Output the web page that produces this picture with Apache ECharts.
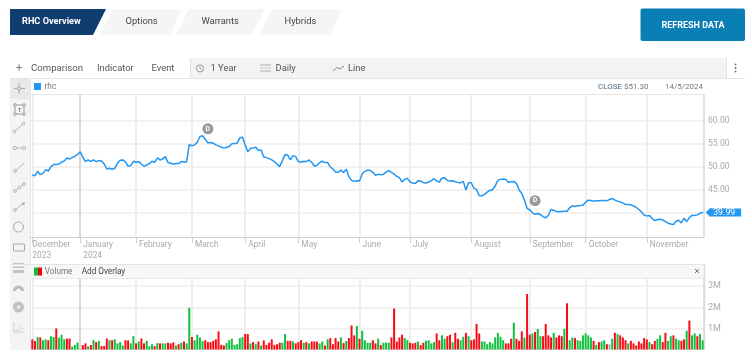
<!DOCTYPE html>
<html>
<head>
<meta charset="utf-8">
<style>html,body{margin:0;padding:0;background:#fff}#c{width:752px;height:358px}</style>
<script src="https://cdn.jsdelivr.net/npm/echarts@6/dist/echarts.min.js"></script>
</head>
<body>
<div id="c"></div>
<script>
const closePrices = [
48.21,48.06,49.01,48.28,48.57,49.38,49.08,50.04,50.48,50.48,50.62,50.99,51.28,51.94,51.72,52.01,52.31,52.67,53.26,52.09,
51.14,51.50,51.14,51.50,51.14,51.36,51.28,50.62,49.52,49.67,49.45,49.67,50.77,51.43,51.50,51.06,50.11,50.26,51.21,50.99,
51.14,50.62,50.11,50.40,50.70,51.21,50.99,51.94,51.50,51.72,52.23,50.92,50.77,50.62,50.70,50.70,51.14,51.06,51.06,54.87,
54.58,54.80,55.38,56.63,56.78,56.04,55.24,55.31,55.16,54.80,54.58,54.29,54.14,54.21,54.43,55.02,55.09,55.16,56.34,56.48,
54.80,53.26,53.99,54.14,54.29,53.55,
53.70,52.16,52.01,51.79,51.50,51.14,50.55,50.04,51.36,52.67,52.53,51.50,52.45,52.23,51.14,50.99,51.21,51.14,51.50,50.99,
50.18,50.26,50.92,51.21,50.92,50.92,49.96,49.52,48.86,48.79,49.30,48.72,49.45,47.84,47.03,46.81,46.96,46.89,48.42,49.01,
49.23,49.23,48.79,48.13,48.35,48.28,48.35,48.86,49.16,48.79,48.42,47.91,47.62,46.67,47.25,47.47,46.67,46.45,46.37,46.96,
46.89,46.52,46.45,46.67,46.96,47.40,46.89,46.67,47.55,47.62,47.03,46.89,46.96,46.74,46.59,46.52,46.81,44.91,46.52,46.52,
45.35,45.05,43.66,43.66,43.96,44.47,44.84,44.98,45.79,47.03,47.25,47.33,47.25,46.59,
46.74,46.81,46.37,44.91,44.18,42.71,40.88,40.59,39.93,39.63,39.78,39.56,39.12,38.83,39.41,40.66,40.51,40.22,40.15,40.22,
40.29,40.29,41.03,41.47,41.32,41.47,41.54,41.61,42.27,42.71,42.64,42.49,42.56,42.56,42.64,42.64,42.56,42.86,43.08,42.71,
42.49,42.34,42.05,41.76,41.76,41.68,41.47,41.10,40.66,40.15,39.41,39.27,39.34,38.68,38.24,38.46,38.53,38.39,38.02,37.66,
37.51,37.36,38.10,38.32,37.73,38.75,38.02,38.90,39.41,39.34,39.49,39.85,39.99
];
const volumesM = [
.48,.40,.59,.57,.44,.48,.44,.63,.59,1.00,.56,.70,.48,.52,.52,.14,.22,.33,.22,.21,
.29,.14,.21,.44,.35,.41,.16,.16,.52,.44,.44,.48,.29,.35,.19,.44,.43,.29,.63,.29,
.38,.52,.29,.41,.16,.25,.16,.30,.29,.29,.29,.32,.29,.33,.19,.25,.32,.38,.29,1.98,
.59,.44,.70,.57,.40,.44,.35,.35,.41,.48,.86,.22,.19,.30,.44,.51,.22,.25,.54,.59,
.73,.73,.29,.35,.25,.38,
.19,.43,.22,.32,.48,.22,.25,.32,.32,.73,.41,.41,.38,.29,.35,.44,.32,.35,.29,.38,
.38,.38,.29,.38,.19,.48,.54,.25,.54,.38,.57,.30,.40,.54,1.14,.67,1.11,.51,.89,.44,
.32,.32,.44,.29,.51,.21,.32,.33,.32,.57,1.94,.38,.57,.70,.54,.44,.32,.29,.32,.38,
.21,.32,.41,.44,.29,.35,.76,.44,.67,.51,.63,.70,.35,.79,.51,.44,.60,.79,.63,.44,
.48,1.21,.76,.38,.38,.25,.35,.29,.57,.79,.60,.44,.29,.29,
.51,1.27,.51,.41,.86,.57,2.63,.70,.76,.83,.97,.63,.63,1.21,.67,.57,.79,.57,.67,.63,
.98,2.19,.44,.57,.54,.44,.41,.67,.76,.67,.57,.41,.22,.35,.38,.44,.25,.25,.51,.79,
.73,.67,.57,.44,.29,.41,.29,.19,.38,.29,.54,.48,.35,.25,.41,.51,.67,.35,.79,.41,
.63,.67,.51,.44,.41,.48,.89,1.37,.67,.76,.63,.73,.44
];
const volumeColours = [
"r","r","g","r","g","g","r","g","g","r","g","g","g","r","r","g","g","g","r","r",
"r","g","r","g","r","g","r","r","r","g","r","g","g","g","g","r","r","g","g","r",
"g","r","r","g","g","g","r","g","r","g","g","r","r","r","g","r","g","r","g","g",
"r","g","g","g","g","r","r","r","r","r","r","r","r","g","g","g","g","g","g","g",
"r","r","g","r","g","r",
"g","r","r","r","r","r","r","r","g","g","r","r","g","r","r","r","g","r","g","r",
"r","r","g","g","r","g","r","r","r","r","g","r","g","r","r","r","g","r","g","g",
"g","g","r","r","g","r","g","g","g","r","r","r","r","r","g","g","r","r","r","g",
"r","r","g","g","g","g","r","r","g","g","r","r","g","r","r","g","g","r","g","r",
"r","r","r","g","g","g","g","g","g","g","g","g","r","r",
"r","g","r","r","r","g","r","r","g","r","g","g","r","r","r","r","g","r","r","r",
"g","r","g","g","r","g","g","g","g","g","g","r","g","r","g","g","r","n","g","r",
"g","r","r","r","g","r","r","r","r","r","r","r","g","r","r","g","g","r","r","g",
"g","r","g","g","r","r","g","r","g","g","r","g","g"
];
const monthStarts = [0,18,39,60,80,100,123,142,165,187,208,231];
const monthLabels = ["December\n2023","January\n2024","February","March","April","May","June","July","August","September","October","November"];
const priceTicks = [40,45,50,55,60];
const volumeTicks = [1,2,3];
const dividendPoints = [[66,58.3],[189,42.6]];

const categories = closePrices.map((_,i)=>{const k=monthStarts.indexOf(i);return k>=0?monthLabels[k]:"";});
const isStart = i=>monthStarts.indexOf(i)>=0;
const FONT = 'Roboto';
const gridLine = {show:true,interval:(i)=>isStart(i),alignWithLabel:true,lineStyle:{color:'#eeeeee',width:2}};

const rect=(x,y,w,h,fill,stroke,r)=>({type:'rect',silent:true,shape:{x,y,width:w,height:h,r:r||0},style:{fill:fill||'none',stroke:stroke||'none',lineWidth:1}});
const text=(x,y,t,size,fill,weight,align)=>({type:'text',silent:true,x,y,style:{text:t,font:(weight||'400')+' '+size+'px '+FONT,fill:fill,textAlign:align||'left',textVerticalAlign:'middle'}});
const line=(a,b,c,d,col,w)=>({type:'line',silent:true,shape:{x1:a,y1:b,x2:c,y2:d},style:{stroke:col,lineWidth:w||1}});
const circ=(x,y,r,fill,stroke,w)=>({type:'circle',silent:true,shape:{cx:x,cy:y,r},style:{fill:fill||'none',stroke:stroke||'none',lineWidth:w||1}});
const poly=(pts,fill)=>({type:'polygon',silent:true,shape:{points:pts},style:{fill}});
const ic='#b4b4b4';
const chrome=[
  // tabs
  poly([[10,9],[106,9],[93,35],[10,35]],'#0f3d6e'),
  poly([[113,9],[182,9],[170,35],[100,35]],'#f5f5f5'),
  poly([[189,9],[265,9],[252,35],[176,35]],'#f5f5f5'),
  poly([[272,9],[342,9],[330,35],[259,35]],'#f5f5f5'),
  text(22,21.5,'RHC Overview',9.2,'#ffffff','700'),
  text(125.5,21.5,'Options',9.3,'#444'),
  text(201.5,21.5,'Warrants',9.3,'#444'),
  text(284.5,21.5,'Hybrids',9.3,'#444'),
  rect(640.5,8.5,104.5,32.5,'#0a7fb5',null,2),
  text(693,25.5,'REFRESH DATA',9,'#ffffff','700','center'),
  // toolbar
  rect(190,58,536,20,'#f3f3f3'),
  line(190.5,58,190.5,78,'#e2e2e2'),
  line(726.5,58,726.5,78,'#e2e2e2'),
  line(10,78.5,745,78.5,'#e4e4e4'),
  text(16,68.5,'+',11,'#777'),
  text(31,68.5,'Comparison',9.6,'#555'),
  text(97,68.5,'Indicator',9.4,'#555'),
  text(151.5,68.5,'Event',9.4,'#555'),
  circ(200,68.5,3.6,null,'#999'),line(200,66.5,200,68.5,'#999'),line(200,68.5,201.5,69.5,'#999'),
  text(210.5,68.5,'1 Year',9.4,'#555'),
  line(260,65,271,65,'#aaa'),line(260,68,271,68,'#ccc'),line(260,71,271,71,'#aaa'),
  text(275.5,68.5,'Daily',9.4,'#555'),
  {type:'polyline',silent:true,shape:{points:[[333,71],[337,67.5],[340,69],[344,66]]},style:{stroke:'#888',fill:'none',lineWidth:1}},
  text(348,68.5,'Line',9.4,'#555'),
  circ(735.5,64.5,1,'#777'),circ(735.5,68,1,'#777'),circ(735.5,71.5,1,'#777'),
  // left tool strip
  rect(10,79,20,271,'#f4f4f4'),
  rect(10,79,20,20,'#e9e9e9'),
  line(19,83,19,94,'#aaa'),line(14,88.5,25,88.5,'#aaa'),circ(19,88.5,1.6,'#e9e9e9','#aaa'),
  rect(15,105,9,9,null,'#999'),text(19.5,110,'T',6,'#888','700','center'),circ(15,105,1.4,'#ddd','#aaa'),circ(24,105,1.4,'#ddd','#aaa'),circ(15,114,1.4,'#ddd','#aaa'),circ(24,114,1.4,'#ddd','#aaa'),
  line(15,131,23,124,ic),circ(14.5,131.5,1.4,'#f4f4f4',ic),circ(23.5,123.5,1.4,'#f4f4f4',ic),
  line(15,148,24,148,ic),circ(15,148,1.6,'#f4f4f4',ic),circ(24,148,1.6,'#f4f4f4',ic),
  line(15,171,24,163,ic),circ(15,171,1.4,'#f4f4f4',ic),
  line(15,191,24,184,ic),circ(15,191,1.4,'#f4f4f4',ic),circ(19.5,187.5,1.4,'#f4f4f4',ic),circ(24,184,1.4,'#f4f4f4',ic),
  line(15,210,24,203,ic),circ(15,210,1.4,'#f4f4f4',ic),poly([[25,202],[21,203],[24,206]],ic),
  circ(18.5,227,5,null,'#aaa',1),
  rect(13.5,244,11,7,null,'#aaa'),
  rect(13,263,11,1.5,'#c4c4c4'),rect(13,266.5,11,1.5,'#c4c4c4'),rect(13,270,11,3,'#c4c4c4'),
  {type:'sector',silent:true,shape:{cx:18.5,cy:291,r:5.5,r0:2.5,startAngle:Math.PI,endAngle:2*Math.PI},style:{fill:'#bbb'}},
  circ(18.5,307,5.5,'#c2c2c2'),circ(18.5,307,1.6,'#f4f4f4'),
  line(14,322,14,332,'#ccc'),line(14,332,24,332,'#ccc'),line(14,332,23,324,'#ddd'),line(14,332,24,328,'#ddd'),
  // price legend row
  rect(34,83,7,7,'#2196f3'),
  text(44.5,86.5,'rhc',8.3,'#777'),
  text(598,86.5,'CLOSE',8,'#4a6a8a'),
  text(624,86.5,'$51.30',8,'#777'),
  text(665,86.5,'14/5/2024',8,'#777'),
  line(30,94.5,704,94.5,'#e6e6e6'),
  line(30.5,80,30.5,350,'#e6e6e6'),
  // volume header
  rect(30,265,675,13,'#f7f7f7'),
  line(10,264.5,705,264.5,'#e4e4e4'),
  line(30,278.5,705,278.5,'#e8e8e8'),
  rect(34,267.5,4,8,'#10bf3c'),rect(38,267.5,4,8,'#f5000f'),
  text(44.7,271.5,'Volume',8.2,'#777'),
  text(81.7,271.5,'Add Overlay',8.2,'#444'),
  line(695,269,699,273,'#777'),line(699,269,695,273,'#777'),
  line(704.5,264,704.5,350,'#dddddd',1.5)
];

const axisText={color:'#aaaaaa',fontFamily:FONT,fontSize:8.4,lineHeight:10.5};
const chart=echarts.init(document.getElementById('c'),null,{renderer:'canvas'});
const lastIdx=closePrices.length-1;
const option={
  animation:false,
  backgroundColor:'#fff',
  grid:[
    {left:31,right:48,top:95,height:142,containLabel:false},
    {left:31,right:48,top:279,height:70.5,containLabel:false}
  ],
  xAxis:[
    {type:'category',gridIndex:0,data:categories,boundaryGap:true,
     axisLine:{lineStyle:{color:'#cfcfcf',width:1}},
     axisTick:{show:true,interval:(i)=>isStart(i),alignWithLabel:true,length:6,lineStyle:{color:'#cfcfcf'}},
     axisLabel:{interval:(i)=>isStart(i),align:'left',margin:3,hideOverlap:false,showMinLabel:true,...axisText,
       formatter:(v,i)=>v.split('\n').map(s=>(i===0?'{first|':'{rest|')+s+'}').join('\n'),
       rich:{first:{...axisText},rest:{...axisText,padding:[0,0,0,3]}}},
     splitLine:gridLine},
    {type:'category',gridIndex:1,data:categories,boundaryGap:true,
     axisLine:{show:true,lineStyle:{color:'#e6e6e6'}},axisTick:{show:false},axisLabel:{show:false},
     splitLine:gridLine}
  ],
  yAxis:[
    {type:'value',gridIndex:0,position:'right',min:34.65,max:65.7,
     axisLine:{show:true,lineStyle:{color:'#d8d8d8',width:1.5}},
     axisTick:{show:false,customValues:priceTicks},
     axisLabel:{customValues:priceTicks,color:'#aaaaaa',fontFamily:FONT,fontSize:8.6,margin:4,formatter:v=>v.toFixed(2)},
     splitLine:{show:true,lineStyle:{color:'#eeeeee',width:1.5}}},
    {type:'value',gridIndex:1,position:'right',min:0,max:3.34,
     axisLine:{show:true,lineStyle:{color:'#d8d8d8',width:1.5}},
     axisTick:{show:false,customValues:volumeTicks},
     axisLabel:{customValues:volumeTicks,color:'#aaaaaa',fontFamily:FONT,fontSize:9,margin:4,formatter:v=>v+'M'},
     splitLine:{show:true,lineStyle:{color:'#eeeeee',width:1.5}}}
  ],
  series:[
    {name:'rhc',type:'line',xAxisIndex:0,yAxisIndex:0,data:closePrices,showSymbol:false,symbol:'none',
     lineStyle:{color:'#2196f3',width:1.5},itemStyle:{color:'#2196f3'},z:5,
     markLine:{silent:true,symbol:'none',label:{show:false},lineStyle:{color:'#d9d9d9',width:2,type:'solid'},data:[{xAxis:monthStarts[1]}]},
     markPoint:{silent:true,animation:false,data:[
       ...dividendPoints.map(p=>({coord:p,symbol:'circle',symbolSize:11,itemStyle:{color:'#999999'},label:{show:true,formatter:'D',color:'#fff',fontSize:7,fontWeight:'bold',fontFamily:FONT}})),
       {coord:[lastIdx,39.99],symbol:'rect',symbolSize:[1,1],itemStyle:{color:'#2196f3'},
        label:{show:true,position:'right',distance:0,offset:[6,0],formatter:'39.99',color:'#fff',backgroundColor:'#2196f3',fontSize:8.8,fontFamily:FONT,padding:[0,4,0,4],width:24,height:8,lineHeight:8}},
       {coord:[lastIdx,39.99],symbol:'triangle',symbolRotate:90,symbolSize:[8,4],symbolOffset:[5,0],itemStyle:{color:'#2196f3'},label:{show:false}}
     ]}},
    {name:'Volume',type:'bar',xAxisIndex:1,yAxisIndex:1,barWidth:2,
     data:volumesM.map((v,i)=>({value:v,itemStyle:{color:volumeColours[i]==='r'?'#fa0a14':volumeColours[i]==='g'?'#12c040':'#aaaaaa'}})),
     markLine:{silent:true,symbol:'none',label:{show:false},lineStyle:{color:'#d9d9d9',width:2,type:'solid'},data:[{xAxis:monthStarts[1]}]}}
  ],
  graphic:chrome
};
chart.setOption(option);
</script>
</body>
</html>
